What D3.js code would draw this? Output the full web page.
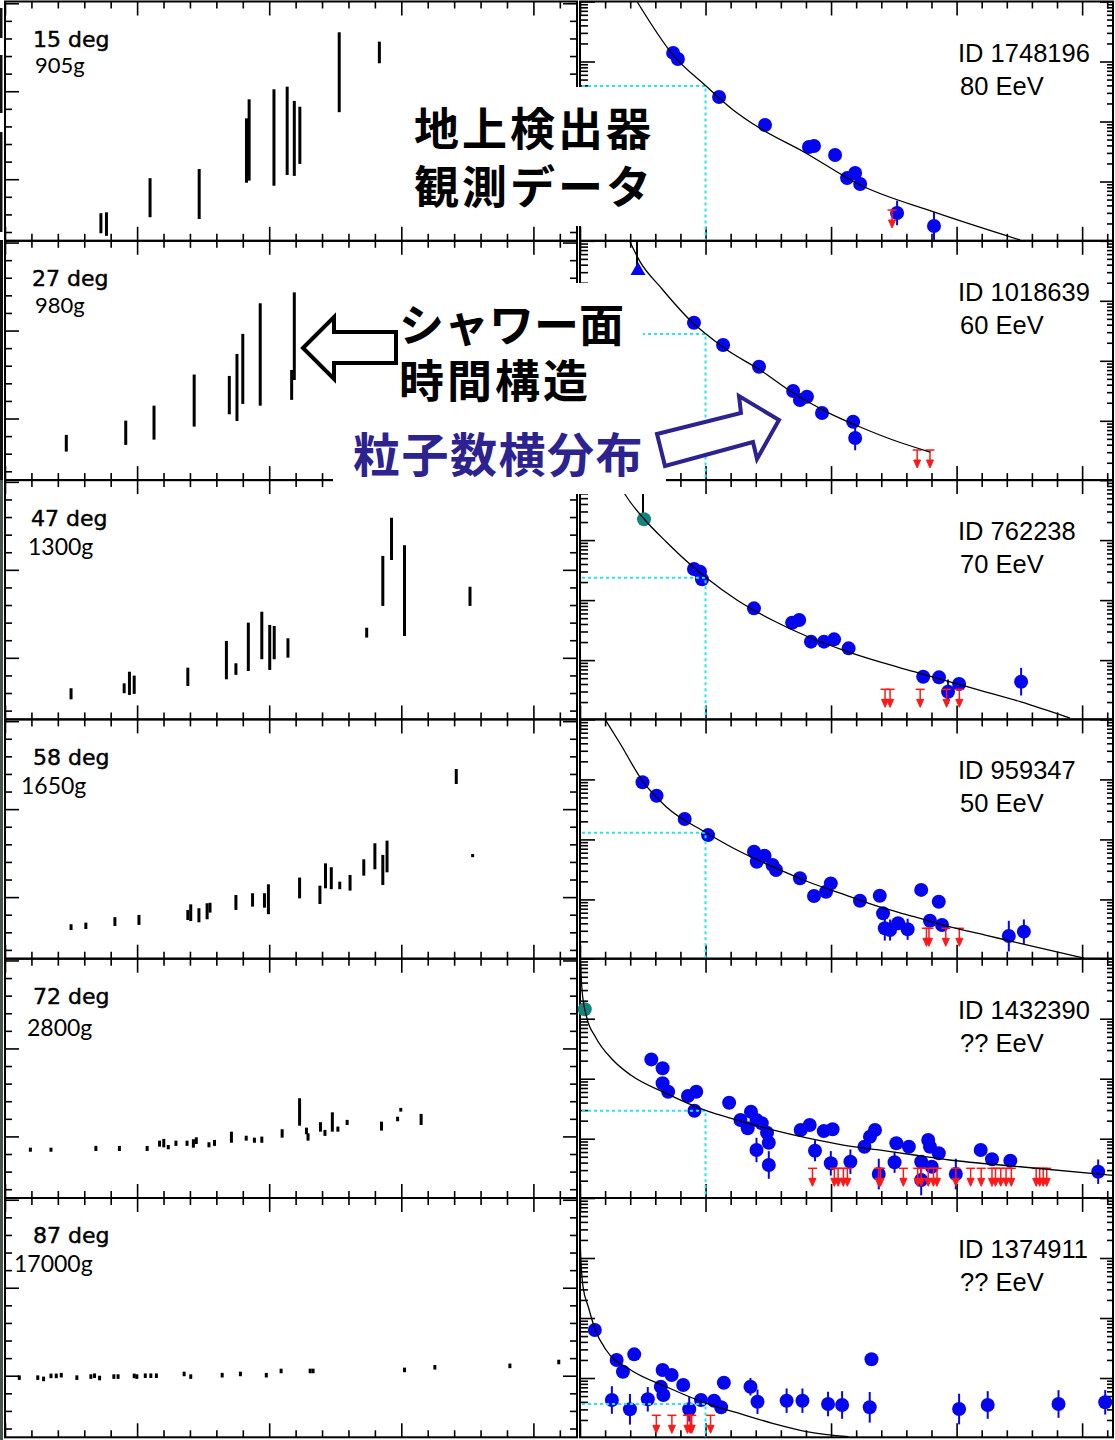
<!DOCTYPE html>
<html>
<head>
<meta charset="utf-8">
<script src="https://cdn.jsdelivr.net/npm/d3@7"></script>
<style>
  body { margin: 0; background: #fff; }
  svg { display: block; }
</style>
</head>
<body>
<svg id="chart" width="1115" height="1440"></svg>
<script>
// ---------------- labels ----------------
const zenithLabels = ["15 deg", "27 deg", "47 deg", "58 deg", "72 deg", "87 deg"];
const depthLabels = ["905g", "980g", "1300g", "1650g", "2800g", "17000g"];
const eventIds = ["ID 1748196", "ID 1018639", "ID 762238", "ID 959347", "ID 1432390", "ID 1374911"];
const energyLabels = ["80 EeV", "60 EeV", "70 EeV", "50 EeV", "?? EeV", "?? EeV"];

// ---------------- shower-front timing: [distance, tLow, tHigh] ----------------
const timing15 = [[3.63,-3.07,-1.93],[3.84,-3.22,-1.88],[5.49,-2.16,0.06],[7.35,-2.26,0.58],[9.14,-0.20,3.46],
  [9.24,-0.08,4.54],[10.18,-0.37,5.11],[10.68,0.24,5.26],[10.95,0.19,4.45],[11.16,0.87,4.12],[12.65,3.81,8.35],[14.17,6.59,7.82]];
const timing27 = [[2.32,-1.88,-0.93],[4.57,-1.50,-0.12],[5.64,-1.20,0.73],[7.16,-0.46,2.50],[8.49,0.24,2.42],
  [8.78,-0.14,3.67],[9.00,0.83,4.81],[9.66,0.73,6.55],[10.85,1.06,2.76],[10.95,2.19,7.17]];
const timing47 = [[2.50,-2.36,-1.73],[4.51,-2.01,-1.45],[4.71,-2.11,-0.79],[4.89,-2.05,-1.01],[6.92,-1.60,-0.56],
  [8.38,-1.22,0.96],[8.74,-0.97,-0.31],[9.21,-0.75,2.00],[9.72,-0.08,2.62],[10.02,-0.69,1.87],[10.19,-0.08,1.81],
  [10.71,0.01,1.11],[13.69,1.15,1.71],[14.30,2.95,5.79],[14.63,5.56,7.96],[15.12,1.24,6.40],[17.60,2.95,4.04]];
const timing58 = [[2.50,-1.87,-1.54],[3.06,-1.81,-1.45],[4.16,-1.64,-1.14],[5.07,-1.58,-1.01],[6.92,-1.30,-0.73],
  [7.03,-1.36,-0.41],[7.34,-1.43,-0.63],[7.65,-1.26,-0.35],[7.76,-0.88,-0.32],[8.74,-0.73,0.12],[9.37,-0.54,0.22],
  [9.82,-0.60,0.22],[9.97,-0.97,0.73],[11.15,-0.07,1.11],[11.92,-0.39,0.65],[12.13,0.50,1.92],[12.35,0.45,1.70],
  [12.67,0.45,0.88],[13.06,0.37,1.26],[13.58,1.22,2.15],[14.00,1.58,3.06],[14.30,0.69,2.40],[14.46,1.41,3.21],
  [17.08,6.43,7.28],[17.70,2.27,2.45]];
const timing72 = [[0.96,-0.87,-0.64],[1.74,-0.87,-0.64],[3.44,-0.83,-0.54],[4.33,-0.83,-0.54],[5.38,-0.83,-0.54],
  [5.85,-0.58,-0.24],[6.01,-0.62,-0.14],[6.18,-0.73,-0.49],[6.47,-0.54,-0.24],[6.89,-0.54,-0.24],[7.13,-0.64,-0.16],
  [7.24,-0.43,-0.05],[7.72,-0.62,-0.33],[7.93,-0.54,-0.20],[8.57,-0.36,0.27],[9.13,-0.24,0.04],[9.44,-0.36,-0.07],
  [9.72,-0.36,-0.01],[10.49,-0.07,0.41],[11.15,0.61,2.17],[11.41,0.12,0.50],[11.47,-0.24,0.18],[11.94,0.27,0.81],
  [12.11,0.03,0.37],[12.39,0.27,1.37],[12.60,0.27,0.56],[12.95,0.65,0.94],[14.25,0.33,0.84],[14.86,0.86,1.12],
  [14.98,1.41,1.62],[15.75,0.65,1.28]];
const timing87 = [[0.54,-0.24,0.02],[1.24,-0.24,0.02],[1.46,-0.31,-0.05],[1.74,-0.14,0.12],[1.94,-0.14,0.12],
  [2.13,-0.10,0.16],[2.72,-0.24,0.02],[3.25,-0.18,0.08],[3.39,-0.13,0.13],[3.58,-0.26,0.00],[4.12,-0.18,0.08],
  [4.28,-0.18,0.08],[4.89,-0.14,0.12],[4.99,-0.18,0.08],[5.31,-0.13,0.13],[5.52,-0.13,0.13],[5.73,-0.13,0.13],
  [6.78,-0.03,0.23],[7.03,-0.18,0.08],[8.22,-0.10,0.16],[8.91,-0.03,0.23],[9.89,-0.10,0.16],[10.45,0.14,0.40],
  [11.55,0.14,0.40],[11.66,0.14,0.40],[15.12,0.20,0.46],[16.27,0.35,0.61],[19.11,0.43,0.69],[20.96,0.65,0.91]];

// ---------------- lateral distribution: [distance, density, error factor] ----------------
const ldf1748196 = [[3.71,139],[3.90,110],[5.54,25.6],[7.37,8.75],[9.12,3.76],[9.32,3.91],[10.16,2.77],
  [10.64,1.14],[10.96,1.39],[11.16,0.908],[12.63,0.299,1.6],[14.10,0.181,1.7]];
const ldf1018639 = [[4.54,43.2],[5.70,18.3],[7.13,7.98],[8.49,3.14],[8.76,2.22],[9.04,2.52],[9.64,1.35],
  [10.88,0.966],[10.96,0.516,1.6]];
const ldf762238 = [[4.54,33.0],[4.78,29.7],[4.86,22.2],[6.93,7.29],[8.45,4.20],[8.73,4.66],[9.20,2.03],[9.72,2.03],
  [10.12,2.22],[10.70,1.57],[13.67,0.528],[14.30,0.516],[14.66,0.297,1.6],[15.10,0.40],[17.57,0.437,1.7]];
const ldf959347 = [[2.49,89.5],[3.05,53.5],[4.17,21.9],[5.10,11.8],[6.93,6.24],[7.35,5.35],[7.04,4.25],[7.67,3.74],
  [7.81,3.09],[8.76,2.25],[9.32,1.14],[9.80,1.34],[9.99,1.85],[11.15,0.95],[11.94,1.15],[12.07,0.586],
  [12.14,0.33,1.6],[12.35,0.309,1.5],[12.67,0.40],[13.05,0.318,1.5],[13.59,1.44],[14.29,0.916],[13.94,0.442],
  [14.42,0.374],[17.08,0.245,1.8],[17.68,0.29,1.6]];
const ldf1432390 = [[2.84,21.0],[3.29,14.9],[3.29,8.38],[3.51,6.07],[4.30,5.15],[4.63,6.07],[4.56,2.93],[5.94,3.98],
  [6.39,2.05],[6.81,2.82],[7.03,2.05],[6.68,1.49],[7.24,1.81],[7.45,1.26],[7.52,0.857],[7.03,0.649,1.6],
  [7.52,0.365,1.7],[8.79,1.40],[9.15,1.69],[9.71,1.34],[10.06,1.44],[9.36,0.631,1.5],[9.99,0.389,1.6],
  [10.77,0.414,1.6],[11.33,0.736],[11.55,1.08],[11.75,1.40],[11.90,0.258,1.8],[12.53,0.405,1.5],[12.60,0.838],
  [13.10,0.736],[13.59,0.414],[13.87,0.95],[13.94,0.736],[14.01,0.341],[14.29,0.571],[13.59,0.205,1.8],
  [14.97,0.258,1.8],[15.96,0.649],[16.41,0.454],[17.14,0.43],[20.64,0.282,1.6]];
const ldf1374911 = [[0.59,6.31],[1.46,2.0],[1.71,1.27],[2.16,2.48],[3.29,1.36],[3.65,1.12],[3.22,0.716],[3.32,0.521],
  [4.11,0.764],[1.27,0.43,1.7],[1.99,0.301,1.8],[2.70,0.442,1.6],[4.35,0.301,1.6],[4.82,0.43],[5.34,0.419],
  [5.62,0.325],[5.73,0.836],[6.79,0.716,1.4],[7.07,0.403,1.6],[8.23,0.419,1.6],[8.86,0.419,1.6],[9.88,0.369,1.6],
  [10.44,0.355,1.7],[11.54,0.325,1.8],[11.61,2.05],[15.10,0.304,1.8],[16.24,0.355,1.7],[19.06,0.369,1.7],
  [20.92,0.394,1.6]];

// counters nearest the core: [distance, density, upper end of error]
const core1018639 = [[2.31, 326, 1000]];
const core762238 = [[2.55, 222, 741]];
const core1432390 = [[0.19, 144]];

// upper limits for counters without signal: [distance, density]
const ul1748196 = [[12.43,0.335]];
const ul1018639 = [[13.43,0.326],[13.94,0.326]];
const ul762238 = [[12.15,0.326],[12.35,0.326],[13.55,0.326],[14.60,0.326],[15.11,0.326]];
const ul959347 = [[13.80,0.33],[13.90,0.33],[14.57,0.33],[15.11,0.33]];
const ul1432390 = [[9.26,0.321],[10.13,0.321],[10.28,0.321],[10.49,0.321],[10.65,0.321],[11.90,0.321],[11.97,0.321],
  [12.88,0.321],[13.45,0.321],[13.59,0.321],[13.87,0.321],[14.08,0.321],[14.22,0.321],[14.97,0.321],[15.56,0.321],
  [15.98,0.321],[16.41,0.321],[16.55,0.321],[16.76,0.321],[16.97,0.321],[17.18,0.321],[18.17,0.321],[18.31,0.321],
  [18.45,0.321],[18.59,0.321]];
const ul1374911 = [[3.04,0.239],[3.66,0.239],[4.28,0.239],[4.39,0.239],[4.45,0.239],[5.20,0.239]];

// fitted LDF, sampled along the drawn curve: [distance, density]
const fit1748196 = [[2.27,1000],[3.71,128],[5.02,39.1],[6.10,15.6],[7.17,7.71],[8.90,3.14],[11.16,0.875],[14.06,0.314],[17.53,0.106]];
const fit1018639 = [[1.99,966],[2.39,449],[3.19,172],[4.50,42.7],[5.02,28.0],[5.86,15.1],[7.17,7.03],[8.49,2.90],
  [9.84,1.40],[11.16,0.789],[12.47,0.479],[13.94,0.302]];
const fit762238 = [[1.50,950],[1.81,565],[2.59,216],[3.43,94.0],[4.42,38.5],[5.03,23.6],[6.25,10.05],[7.65,4.66],
  [9.08,2.45],[10.48,1.47],[11.91,0.94],[13.31,0.641],[14.70,0.437],[16.14,0.297],[17.53,0.203],[19.52,0.108]];
const fit959347 = [[1.00,1000],[1.59,400],[2.51,91.6],[3.43,35.1],[5.03,12.9],[6.25,6.65],[7.67,3.51],[9.08,1.97],
  [10.48,1.22],[11.90,0.755],[13.31,0.515],[14.70,0.351],[16.14,0.255],[17.53,0.185],[20.08,0.105]];
const fit1432390 = [[0.02,891],[0.08,301],[0.26,108],[0.61,50.1],[1.31,20.5],[2.02,11.5],[3.43,5.71],[5.03,2.93],
  [6.25,2.05],[7.67,1.40],[9.08,1.02],[10.49,0.785],[11.90,0.649],[13.31,0.535],[14.72,0.442],[17.53,0.341],[21.23,0.245]];
const fit1374911 = [[0.005,300],[0.02,136],[0.12,33.3],[0.33,15.4],[0.61,6.31],[1.04,2.93],[2.02,1.36],[3.43,0.716],
  [5.03,0.378],[6.25,0.264],[7.67,0.176],[9.08,0.127],[10.70,0.105]];

// density of the fit at the reference distance (dotted guide)
const refDistance = 5;
const refDensity = [39.1, 28.0, 23.6, 12.9, 2.93, 0.37];

// ---------------- layout ----------------
const rowTop0 = 1.5, rowH = 239.3;
const LX = [5, 577], RX = [580, 1113];
const labelPos = [  // [degX, degY, gX, gY] relative to row top
  [33, 45, 35, 71], [32, 45, 35, 72], [31, 46, 28, 75],
  [33, 46, 21, 75], [33, 45, 27, 77], [33, 45, 14, 74]];

const rows = [
  { timing: timing15, pts: ldf1748196, core: [], coreType: null, ul: ul1748196, fit: fit1748196 },
  { timing: timing27, pts: ldf1018639, core: core1018639, coreType: "tri", ul: ul1018639, fit: fit1018639 },
  { timing: timing47, pts: ldf762238, core: core762238, coreType: "teal", ul: ul762238, fit: fit762238 },
  { timing: timing58, pts: ldf959347, core: [], coreType: null, ul: ul959347, fit: fit959347 },
  { timing: timing72, pts: ldf1432390, core: core1432390, coreType: "teal", ul: ul1432390, fit: fit1432390 },
  { timing: timing87, pts: ldf1374911, core: [], coreType: null, ul: ul1374911, fit: fit1374911 }
];

const BLUE = "#0505ee", RED = "#ff1818", TEAL = "#13857f", CYAN = "#22e6f2", NAVY = "#2c2290";
const svg = d3.select("#chart");
svg.append("rect").attr("width", 1115).attr("height", 1440).attr("fill", "#fff");

function ticks(g, axisFn, scale, values, size, tx, ty) {
  g.append("g")
    .attr("transform", `translate(${tx},${ty})`)
    .call(axisFn(scale).tickValues(values).tickSize(size).tickSizeOuter(0).tickFormat(""))
    .call(a => a.select(".domain").remove())
    .selectAll("line").attr("stroke", "#000").attr("stroke-width", 1.6);
}

// ---------------- timing panels ----------------
function leftPanel(i) {
  const row = rows[i];
  const top = rowTop0 + i * rowH, bot = top + rowH;
  const g = svg.append("g");
  const x = d3.scaleLinear().domain([0, 21.65]).range(LX);
  const y = d3.scaleLinear().domain([-3.5, 10.1]).range([bot, top]);
  const xv = d3.range(0, 22), yv = d3.range(-3, 11);
  const xMinor = xv.filter(v => v % 5 !== 0), xMajor = xv.filter(v => v % 5 === 0);
  const yMinor = yv.filter(v => v % 5 !== 0), yMajor = yv.filter(v => v % 5 === 0);

  g.append("rect").attr("x", LX[0]).attr("y", top).attr("width", LX[1] - LX[0]).attr("height", rowH)
    .attr("fill", "none").attr("stroke", "#000").attr("stroke-width", 2);
  ticks(g, d3.axisBottom, x, xMinor, 7, 0, top);
  ticks(g, d3.axisBottom, x, xMajor, 14, 0, top);
  ticks(g, d3.axisTop, x, xMinor, 7, 0, bot);
  ticks(g, d3.axisTop, x, xMajor, 14, 0, bot);
  ticks(g, d3.axisRight, y, yMinor, 7, LX[0], 0);
  ticks(g, d3.axisRight, y, yMajor, 14, LX[0], 0);
  ticks(g, d3.axisLeft, y, yMinor, 7, LX[1], 0);
  ticks(g, d3.axisLeft, y, yMajor, 14, LX[1], 0);

  g.selectAll("line.hit").data(row.timing).join("line").attr("class", "hit")
    .attr("x1", d => x(d[0])).attr("x2", d => x(d[0]))
    .attr("y1", d => y(d[1])).attr("y2", d => y(d[2]))
    .attr("stroke", "#000").attr("stroke-width", 3);

  // zenith angle and slant depth, one text block
  const lp = labelPos[i];
  const t = g.append("text").attr("fill", "#000");
  t.append("tspan").attr("x", lp[0]).attr("y", top + lp[1]).text(zenithLabels[i])
    .attr("font-family", "'DejaVu Sans', sans-serif").attr("font-size", 22)
    .attr("stroke", "#000").attr("stroke-width", 0.45);
  t.append("tspan").attr("x", lp[2]).attr("y", top + lp[3]).text(depthLabels[i])
    .attr("font-family", "Lato, 'Open Sans', sans-serif").attr("font-size", i < 2 ? 22 : 23);
}

// ---------------- lateral distribution panels ----------------
function upperLimit(g, px, py) {
  const u = g.append("g").attr("stroke", RED).attr("fill", RED).attr("stroke-width", 1.5);
  u.append("line").attr("x1", px - 4.5).attr("x2", px + 4.5).attr("y1", py).attr("y2", py);
  u.append("line").attr("x1", px).attr("x2", px).attr("y1", py).attr("y2", py + 12);
  u.append("path").attr("d", `M${px - 3.5},${py + 10}L${px + 3.5},${py + 10}L${px},${py + 18}Z`).attr("stroke-width", 1);
}

function rightPanel(i) {
  const row = rows[i];
  const top = rowTop0 + i * rowH, bot = top + rowH;
  const g = svg.append("g");
  const x = d3.scaleLinear().domain([0, 21.23]).range(RX);
  const y = d3.scaleLog().domain([0.1028, 1000]).range([bot, top]);
  const xv = d3.range(0, 22);
  const xMinor = xv.filter(v => v % 5 !== 0), xMajor = xv.filter(v => v % 5 === 0);
  const isDecade = v => Math.abs(Math.log10(v) - Math.round(Math.log10(v))) < 1e-6;
  const yAll = y.ticks();
  const yMinor = yAll.filter(v => !isDecade(v)), yMajor = yAll.filter(isDecade);

  g.append("rect").attr("x", RX[0]).attr("y", top).attr("width", RX[1] - RX[0]).attr("height", rowH)
    .attr("fill", "none").attr("stroke", "#000").attr("stroke-width", 2);
  ticks(g, d3.axisBottom, x, xMinor, 7, 0, top);
  ticks(g, d3.axisBottom, x, xMajor, 14, 0, top);
  ticks(g, d3.axisTop, x, xMinor, 7, 0, bot);
  ticks(g, d3.axisTop, x, xMajor, 14, 0, bot);
  ticks(g, d3.axisRight, y, yMinor, 8, RX[0], 0);
  ticks(g, d3.axisRight, y, yMajor, 15, RX[0], 0);
  ticks(g, d3.axisLeft, y, yMinor, 6, RX[1], 0);
  ticks(g, d3.axisLeft, y, yMajor, 13, RX[1], 0);

  const clipId = "clipR" + i;
  svg.append("clipPath").attr("id", clipId).append("rect")
    .attr("x", RX[0]).attr("y", top).attr("width", RX[1] - RX[0]).attr("height", rowH);

  // error bars
  g.selectAll("line.err").data(row.pts.filter(d => d[2])).join("line").attr("class", "err")
    .attr("x1", d => x(d[0])).attr("x2", d => x(d[0]))
    .attr("y1", d => y(d[1] / d[2])).attr("y2", d => y(d[1] * d[2]))
    .attr("stroke", BLUE).attr("stroke-width", 2);

  // counters
  g.selectAll("circle.pt").data(row.pts).join("circle").attr("class", "pt")
    .attr("cx", d => x(d[0])).attr("cy", d => y(d[1])).attr("r", 7).attr("fill", BLUE);

  // counter nearest the core
  row.core.forEach(d => {
    const cx = x(d[0]), cy = y(d[1]);
    if (d[2]) {
      g.append("line").attr("x1", cx - 1).attr("x2", cx - 1).attr("y1", y(d[2])).attr("y2", cy - 5)
        .attr("stroke", "#000").attr("stroke-width", 2);
    }
    if (row.coreType === "tri") {
      g.append("path").attr("d", `M${cx},${cy - 8}L${cx + 7.5},${cy + 5}L${cx - 7.5},${cy + 5}Z`).attr("fill", BLUE);
    } else {
      g.append("circle").attr("cx", cx).attr("cy", cy).attr("r", 7).attr("fill", TEAL);
    }
  });

  // upper limits
  row.ul.forEach(d => upperLimit(g, x(d[0]), y(d[1])));

  // dotted reference guide
  const rx = x(refDistance), ry = y(refDensity[i]);
  g.append("path").attr("d", `M${RX[0] + 2},${ry}H${rx}V${bot}`)
    .attr("fill", "none").attr("stroke", CYAN).attr("stroke-width", 2).attr("stroke-dasharray", "3,3");

  // fitted curve
  const line = d3.line().x(d => x(d[0])).y(d => y(d[1])).curve(d3.curveMonotoneX);
  g.append("path").datum(row.fit).attr("d", line).attr("clip-path", `url(#${clipId})`)
    .attr("fill", "none").attr("stroke", "#000").attr("stroke-width", 1.3);

  const t = g.append("text").attr("font-family", "'Liberation Sans', Arial, sans-serif")
    .attr("font-size", 25.5).attr("fill", "#000");
  t.append("tspan").attr("x", 958).attr("y", top + 60).text(eventIds[i]);
  t.append("tspan").attr("x", 960).attr("y", top + 93).text(energyLabels[i]);
}

for (let i = 0; i < 6; i++) { leftPanel(i); rightPanel(i); }

// scanned edge along the left side
svg.append("rect").attr("x", 0).attr("y", 240).attr("width", 3).attr("height", 240).attr("fill", "#111");
svg.append("rect").attr("x", 0).attr("y", 480).attr("width", 3).attr("height", 960).attr("fill", "#46544b");
[[8, 30], [55, 58], [132, 100]].forEach(s =>
  svg.append("rect").attr("x", 0).attr("y", s[0]).attr("width", 2.5).attr("height", s[1]).attr("fill", "#111"));

// ---------------- annotations ----------------
const ann = svg.append("g");
ann.append("rect").attr("x", 400).attr("y", 87).attr("width", 272).attr("height", 139).attr("fill", "#fff");
ann.append("rect").attr("x", 398).attr("y", 283).attr("width", 245).attr("height", 142).attr("fill", "#fff");
ann.append("rect").attr("x", 333).attr("y", 425).attr("width", 333).attr("height", 69).attr("fill", "#fff");

const cjk = "'Noto Sans CJK JP', 'Noto Sans CJK SC', sans-serif";
function jblock(lines, size, color) {
  const t = ann.append("text").attr("font-family", cjk).attr("font-weight", 700)
    .attr("font-size", size).attr("fill", color);
  lines.forEach(l => t.append("tspan").attr("x", l[1]).attr("y", l[2]).attr("letter-spacing", l[3]).text(l[0]));
}
jblock([["地上検出器", 414, 146, 3], ["観測データ", 414, 204, 3]], 45, "#000");
jblock([["シャワー面", 399, 342, 0], ["時間構造", 399, 398, 3]], 45, "#000");
jblock([["粒子数横分布", 353, 472, 1.5]], 47, NAVY);

// hollow arrow pointing at the timing data
ann.append("path")
  .attr("d", "M303,348 L334,317 L334,332 L396,332 L396,363 L334,363 L334,379 Z")
  .attr("fill", "#fff").attr("stroke", "#000").attr("stroke-width", 4).attr("stroke-linejoin", "miter");
// hollow arrow pointing at the lateral distribution
ann.append("path")
  .attr("d", "M657,434 L741,413 L739,396 L779,420 L757,459 L753,442 L665,466 Z")
  .attr("fill", "#fff").attr("stroke", NAVY).attr("stroke-width", 4).attr("stroke-linejoin", "miter");
</script>
</body>
</html>
